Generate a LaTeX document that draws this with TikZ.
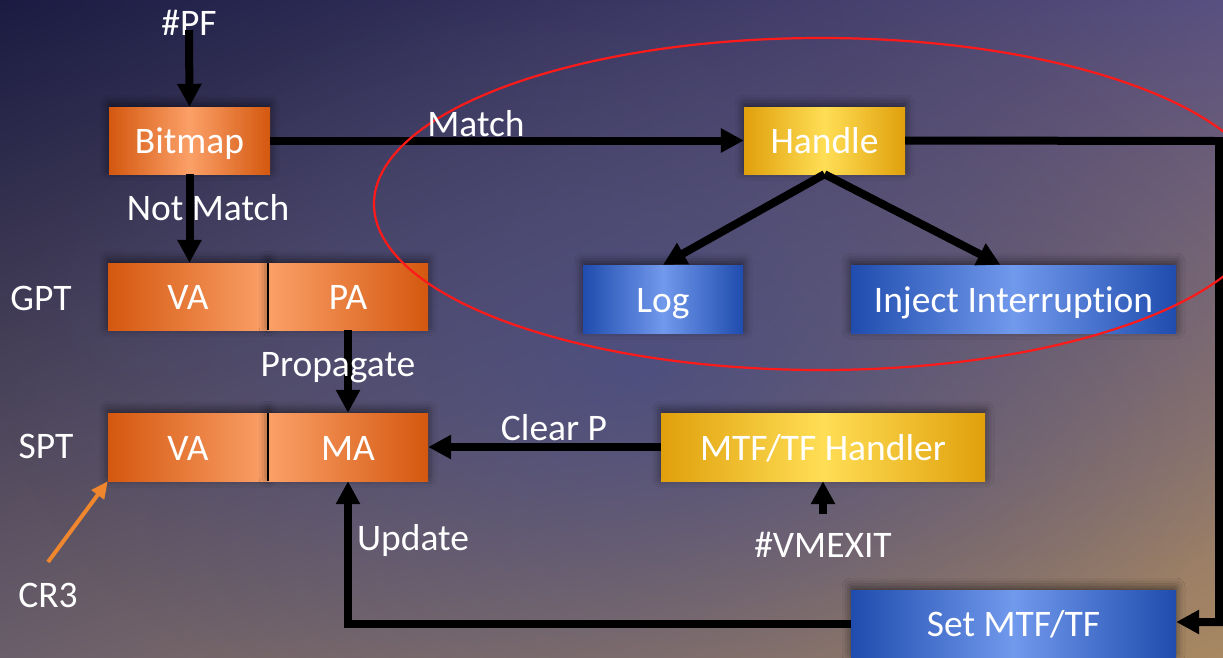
\documentclass[tikz,border=0pt]{standalone}
\usepackage{fontspec}
\setmainfont{Carlito}[Ligatures=NoCommon]
\usetikzlibrary{arrows.meta,shadows.blur,fadings,shadings,calc}

\definecolor{bgUL}{HTML}{1A1B42}
\definecolor{bgUR}{HTML}{585080}
\definecolor{bgLL}{HTML}{6A5E6A}
\definecolor{bgLR}{HTML}{A88862}
\definecolor{bgMid}{HTML}{464C88}
\definecolor{orDark}{HTML}{D4580F}
\definecolor{orLight}{HTML}{FBA068}
\definecolor{yeDark}{HTML}{E0A00C}
\definecolor{yeLight}{HTML}{FFDE55}
\definecolor{blDark}{HTML}{1F4CAE}
\definecolor{blLight}{HTML}{7199EC}
\definecolor{crOrange}{HTML}{F0862E}
\definecolor{ringRed}{HTML}{FF1A1A}

\newcommand\diagfont{\fontsize{37.5}{42}\selectfont}

\tikzfading[name=softdisc, inner color=transparent!25, outer color=transparent!100]

\tikzset{
  boxbase/.style={rectangle, inner sep=0pt, minimum height=67pt,
    text height=26pt, text depth=0pt, text=white, font=\diagfont,
    blur shadow={shadow xshift=0pt, shadow yshift=3pt,
      shadow blur radius=9pt, shadow opacity=55}},
  orangebox/.style={boxbase, left color=orDark, right color=orDark, middle color=orLight},
  orangeleft/.style={boxbase, left color=orDark, right color=orLight},
  orangeright/.style={boxbase, left color=orLight, right color=orDark},
  yellowbox/.style={boxbase, left color=yeDark, right color=yeDark, middle color=yeLight},
  bluebox/.style={boxbase, left color=blDark, right color=blDark, middle color=blLight},
  lbl/.style={text=white, font=\diagfont, inner sep=0pt, anchor=base},
  flow/.style={line width=8pt, draw=black, -{Triangle[length=23pt,width=23pt]}},
  cr3arrow/.style={line width=4pt, draw=crOrange, -{Triangle[length=17pt,width=15pt]}}
}

\begin{document}
\begin{tikzpicture}[x=1pt,y=-1pt]
  \useasboundingbox (0,0) rectangle (1223,657);
  \clip (0,0) rectangle (1223,657);

  % backdrop
  \shade[upper left=bgUL, upper right=bgUR, lower left=bgLL, lower right=bgLR]
    (0,0) rectangle (1223,657);
  \fill[bgMid, path fading=softdisc] (640,370) ellipse [x radius=640, y radius=390];

  % boxes
  \node[orangebox, minimum width=161pt] (bitmap) at (189.5,140.5) {Bitmap};
  \node[orangeleft, minimum width=160pt] (gva) at (188,296.5) {VA};
  \node[orangeright, minimum width=160pt] (gpa) at (348,296.5) {PA};
  \node[orangeleft, minimum width=160pt, minimum height=68pt] (sva) at (188,447) {VA};
  \node[orangeright, minimum width=160pt, minimum height=68pt] (sma) at (348,447) {MA};
  \draw[black, line width=1.5pt] (gva.north east) -- (gva.south east);
  \draw[black, line width=1.5pt] (sva.north east) -- (sva.south east);

  \node[yellowbox, minimum width=161pt] (handle) at (824.5,140.5) {Handle};
  \node[bluebox, minimum width=160pt, minimum height=68pt] (log) at (663,299) {Log};
  \node[bluebox, minimum width=325pt, minimum height=68pt] (inject) at (1013.5,299) {Inject Interruption};
  \node[yellowbox, minimum width=324pt, minimum height=68pt] (mtfh) at (823,447) {MTF/TF Handler};
  \node[bluebox, minimum width=325pt] (setmtf) at (1013.5,623.5) {Set MTF/TF};

  % free labels
  \node[lbl] (pf) at (189,35) {\#PF};
  \node[lbl] (gptlbl) at (41,310) {GPT};
  \node[lbl] (sptlbl) at (46,458) {SPT};
  \node[lbl] (vmexit) at (823,557) {\#VMEXIT};
  \node[lbl] (cr3) at (48,607) {CR3};

  % connectors
  \coordinate (rtop) at (1219,141);
  \coordinate (rbot) at (1219,622);
  \coordinate (vmtail) at (823,514);
  \coordinate (cr3tail) at (48,562);

  \draw[flow] ($(pf.south)+(0,-5)$) -- (bitmap.north);
  \draw[flow] (bitmap.south) -- (bitmap.south |- gva.north);
  \draw[flow] (bitmap.east) -- (handle.west);
  \draw[flow, line join=miter] (handle.east) -- (rtop) -- (rbot) -- (rbot -| setmtf.east);
  \draw[flow] (handle.south) -- (log.north);
  \draw[flow] (handle.south) -- ($(inject.north)+(-13,0)$);
  \draw[flow] (gpa.south) -- (sma.north);
  \draw[flow] (mtfh.west) -- (sma.east);
  \draw[flow] (vmtail) -- (mtfh.south);
  \draw[flow, line join=miter] (setmtf.west) -- (setmtf.west -| sma.south) -- (sma.south);
  \draw[cr3arrow] (cr3tail) -- (sva.south west);

  % highlighted handling region
  \draw[ringRed, line width=2.2pt] (821,204) ellipse [x radius=447, y radius=166];

  % connector labels
  \node[lbl] (notmatch) at (208,220) {Not Match};
  \node[lbl] (match) at (476,136) {Match};
  \node[lbl] (propagate) at (338,376) {Propagate};
  \node[lbl] (clearp) at (554,440) {Clear P};
  \node[lbl] (update) at (413,550) {Update};
\end{tikzpicture}
\end{document}
